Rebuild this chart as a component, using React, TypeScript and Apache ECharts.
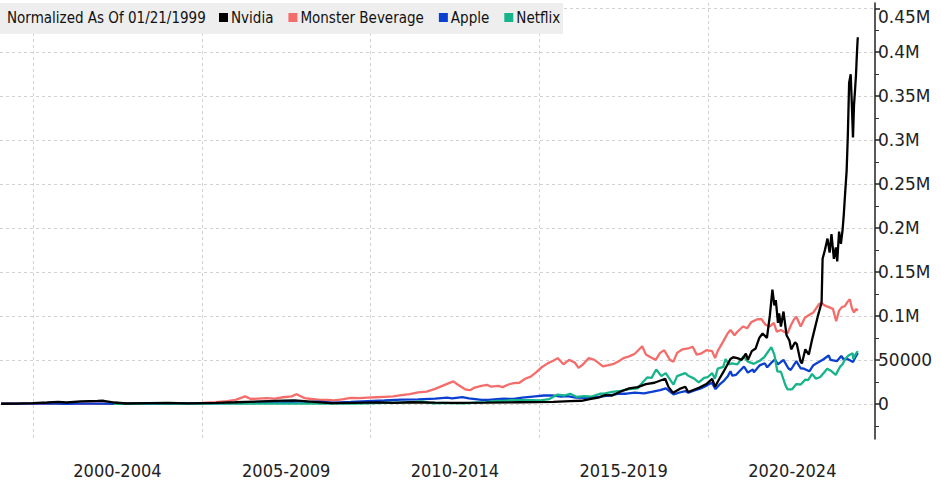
import React, { useEffect, useRef } from "react";
import * as echarts from "echarts";

const chartTitle = "Normalized As Of 01/21/1999";
const seriesNames = ["Nvidia", "Monster Beverage", "Apple", "Netflix"];
const seriesColors = ["#000000", "#f46d6b", "#0b3fd2", "#17b48b"];

const periodStarts = [2000, 2005, 2010, 2015, 2020];
const periodLabels = ["2000-2004", "2005-2009", "2010-2014", "2015-2019", "2020-2024"];

const yTickValues = [0, 50000, 100000, 150000, 200000, 250000, 300000, 350000, 400000, 450000];
const yTickLabels = ["0", "50000", "0.1M", "0.15M", "0.2M", "0.25M", "0.3M", "0.35M", "0.4M", "0.45M"];
const yMinorTickValues = [-25000, 25000, 75000, 125000, 175000, 225000, 275000, 325000, 375000, 425000];

const nvidia: [string, number][] = [
  ["1999-01-21", 100], ["1999-07-01", 300], ["2000-01-01", 800], ["2000-06-01", 1500],
  ["2000-10-01", 2200], ["2001-01-01", 1500], ["2001-06-01", 2800], ["2001-12-01", 3300],
  ["2002-02-01", 3500], ["2002-06-01", 1500], ["2002-10-01", 400], ["2003-06-01", 800],
  ["2004-01-01", 1000], ["2004-08-01", 600], ["2005-06-01", 1200], ["2006-01-01", 1800],
  ["2006-10-01", 2800], ["2007-06-01", 3600], ["2007-10-01", 4000], ["2008-06-01", 2000],
  ["2008-11-01", 700], ["2009-06-01", 1200], ["2010-04-01", 1600], ["2010-09-01", 1000],
  ["2011-04-01", 1800], ["2011-12-01", 1300], ["2012-06-01", 1200], ["2013-06-01", 1400],
  ["2014-06-01", 1800], ["2015-06-01", 2200], ["2015-12-01", 3100], ["2016-04-01", 3500],
  ["2016-07-01", 5500], ["2016-10-01", 7000], ["2016-12-15", 10000], ["2017-03-01", 9500],
  ["2017-06-01", 14000], ["2017-09-01", 17500], ["2017-12-01", 19000], ["2018-03-01", 22500],
  ["2018-06-01", 24000], ["2018-09-25", 28500], ["2018-11-01", 19000], ["2018-12-20", 12500],
  ["2019-03-01", 17000], ["2019-05-01", 19500], ["2019-06-01", 13500], ["2019-08-01", 16000],
  ["2019-10-01", 18500], ["2019-12-15", 22500], ["2020-02-15", 28500], ["2020-03-18", 19500],
  ["2020-05-01", 28000], ["2020-06-15", 36000], ["2020-08-01", 45000], ["2020-09-01", 51000],
  ["2020-10-01", 53000], ["2020-11-15", 52000], ["2021-01-01", 50000], ["2021-02-15", 57000],
  ["2021-03-10", 50000], ["2021-04-20", 60000], ["2021-06-01", 63000], ["2021-07-10", 75000],
  ["2021-08-15", 80000], ["2021-10-01", 75000], ["2021-11-01", 100000], ["2021-11-29", 130000],
  ["2021-12-20", 112000], ["2022-01-05", 118000], ["2022-01-28", 92000], ["2022-02-10", 103000],
  ["2022-03-01", 88000], ["2022-03-29", 105000], ["2022-05-01", 78000], ["2022-06-01", 72000],
  ["2022-06-20", 62000], ["2022-08-01", 70000], ["2022-08-20", 68000], ["2022-09-30", 48000],
  ["2022-10-14", 46000], ["2022-11-20", 62000], ["2022-12-28", 56000], ["2023-01-30", 72000],
  ["2023-03-01", 85000], ["2023-04-05", 100000], ["2023-05-15", 115000], ["2023-05-26", 165000],
  ["2023-06-20", 175000], ["2023-07-18", 188000], ["2023-08-10", 172000], ["2023-08-30", 193000],
  ["2023-09-25", 165000], ["2023-10-16", 178000], ["2023-10-31", 162000], ["2023-11-20", 196000],
  ["2023-12-10", 182000], ["2023-12-28", 198000], ["2024-01-10", 215000], ["2024-01-25", 240000],
  ["2024-02-10", 265000], ["2024-02-23", 305000], ["2024-03-08", 365000], ["2024-03-25", 375000],
  ["2024-04-05", 345000], ["2024-04-19", 303000], ["2024-04-30", 340000], ["2024-05-10", 355000],
  ["2024-05-22", 375000], ["2024-05-28", 390000], ["2024-06-05", 408000], ["2024-06-10", 417000],
];

const monster: [string, number][] = [
  ["1999-01-21", 100], ["2000-01-01", 80], ["2001-01-01", 100], ["2002-01-01", 120],
  ["2003-01-01", 100], ["2003-10-01", 300], ["2004-06-01", 700], ["2005-01-01", 1200],
  ["2005-06-01", 2000], ["2005-10-01", 3000], ["2006-01-01", 4500], ["2006-04-15", 8500],
  ["2006-06-15", 5500], ["2006-09-01", 6000], ["2006-12-01", 6500], ["2007-03-01", 6000],
  ["2007-06-01", 7500], ["2007-09-01", 8500], ["2007-10-20", 11000], ["2007-12-01", 9000],
  ["2008-01-20", 6500], ["2008-04-01", 5500], ["2008-07-01", 4500], ["2008-10-01", 4500],
  ["2008-12-01", 4000], ["2009-03-01", 5000], ["2009-06-01", 6800], ["2009-09-01", 6500],
  ["2009-12-01", 7000], ["2010-03-01", 7500], ["2010-06-01", 8000], ["2010-09-01", 8500],
  ["2010-12-01", 10000], ["2011-03-01", 11000], ["2011-06-01", 13000], ["2011-09-01", 14000],
  ["2011-12-01", 17000], ["2012-03-01", 21000], ["2012-06-15", 25500], ["2012-08-01", 22000],
  ["2012-10-20", 16500], ["2012-12-15", 15500], ["2013-02-01", 18500], ["2013-04-15", 20500],
  ["2013-06-15", 21500], ["2013-08-01", 19500], ["2013-10-15", 20500], ["2013-12-01", 19000],
  ["2014-02-01", 22000], ["2014-04-01", 23500], ["2014-06-01", 24000], ["2014-08-01", 28500],
  ["2014-10-01", 31000], ["2014-12-01", 36000], ["2015-02-01", 42000], ["2015-04-01", 46000],
  ["2015-06-01", 49000], ["2015-07-20", 52000], ["2015-09-20", 45000], ["2015-11-20", 50000],
  ["2016-01-20", 47000], ["2016-03-01", 41000], ["2016-04-20", 45000], ["2016-06-20", 52000],
  ["2016-08-20", 50000], ["2016-10-10", 46000], ["2016-11-20", 42500], ["2017-01-20", 44000],
  ["2017-03-20", 45500], ["2017-05-20", 49000], ["2017-07-01", 52000], ["2017-09-01", 54000],
  ["2017-11-01", 57000], ["2018-01-20", 65500], ["2018-03-01", 56000], ["2018-04-20", 53000],
  ["2018-06-15", 50000], ["2018-08-01", 58000], ["2018-09-15", 61000], ["2018-11-15", 50000],
  ["2018-12-24", 48000], ["2019-02-01", 58000], ["2019-04-01", 62000], ["2019-06-01", 63000],
  ["2019-07-20", 65000], ["2019-09-01", 56000], ["2019-10-15", 57000], ["2019-12-15", 61000],
  ["2020-02-15", 60000], ["2020-03-18", 52000], ["2020-04-15", 60000], ["2020-06-15", 71000],
  ["2020-08-01", 80000], ["2020-09-01", 84000], ["2020-10-15", 78000], ["2020-11-15", 82000],
  ["2021-01-15", 88000], ["2021-03-01", 86000], ["2021-04-15", 93000], ["2021-06-15", 96000],
  ["2021-08-01", 96500], ["2021-09-15", 90000], ["2021-11-01", 88000], ["2021-12-15", 92000],
  ["2022-01-15", 82000], ["2022-03-01", 84000], ["2022-05-10", 80000], ["2022-06-20", 90000],
  ["2022-07-20", 96000], ["2022-08-15", 99000], ["2022-10-01", 88000], ["2022-11-15", 98000],
  ["2022-12-30", 101000], ["2023-02-15", 104000], ["2023-04-15", 113000], ["2023-05-10", 115000],
  ["2023-06-15", 112000], ["2023-08-01", 110000], ["2023-09-15", 108000], ["2023-10-20", 94000],
  ["2023-11-20", 106000], ["2023-12-20", 110000], ["2024-01-20", 111000], ["2024-02-20", 116000],
  ["2024-03-15", 119000], ["2024-04-10", 108000], ["2024-05-01", 104000], ["2024-05-20", 108000],
  ["2024-06-10", 106000],
];

const apple: [string, number][] = [
  ["1999-01-21", 100], ["1999-06-01", 140], ["1999-12-01", 280], ["2000-03-20", 400],
  ["2000-09-01", 180], ["2000-12-15", 120], ["2001-06-01", 170], ["2002-01-01", 180],
  ["2002-06-01", 120], ["2003-04-01", 110], ["2003-12-01", 160], ["2004-06-01", 250],
  ["2004-12-01", 480], ["2005-06-01", 560], ["2005-12-01", 1100], ["2006-06-01", 860],
  ["2006-12-01", 1280], ["2007-06-01", 1800], ["2007-12-20", 2900], ["2008-03-01", 1800],
  ["2008-06-01", 2600], ["2008-12-01", 1300], ["2009-06-01", 2100], ["2009-12-01", 3100],
  ["2010-06-01", 3800], ["2010-12-01", 4800], ["2011-06-01", 5000], ["2011-12-01", 5900],
  ["2012-04-10", 7000], ["2012-06-01", 6300], ["2012-09-20", 7600], ["2012-12-01", 6100],
  ["2013-04-20", 4400], ["2013-07-01", 4400], ["2013-10-01", 5300], ["2013-12-15", 5900],
  ["2014-04-01", 5500], ["2014-07-01", 7000], ["2014-11-20", 8600], ["2015-02-20", 9500],
  ["2015-05-20", 9700], ["2015-08-25", 8200], ["2015-11-01", 8800], ["2016-02-01", 7200],
  ["2016-05-12", 6900], ["2016-08-01", 7600], ["2016-11-01", 8200], ["2017-02-01", 9600],
  ["2017-05-15", 11700], ["2017-08-01", 11500], ["2017-11-01", 12800], ["2018-02-08", 11900],
  ["2018-05-01", 13500], ["2018-08-01", 15600], ["2018-10-03", 17500], ["2018-12-24", 10800],
  ["2019-03-01", 12900], ["2019-05-01", 14500], ["2019-06-03", 12600], ["2019-08-01", 15000],
  ["2019-10-15", 17500], ["2019-12-27", 21300], ["2020-02-12", 24000], ["2020-03-23", 16800],
  ["2020-05-01", 21500], ["2020-06-15", 25500], ["2020-08-01", 31000], ["2020-09-01", 37000],
  ["2020-09-21", 32000], ["2020-11-01", 33000], ["2021-01-26", 42500], ["2021-03-08", 35500],
  ["2021-05-01", 39000], ["2021-05-13", 36000], ["2021-07-15", 43800], ["2021-09-07", 46200],
  ["2021-10-04", 41500], ["2021-11-15", 46500], ["2021-12-28", 50500], ["2022-01-27", 45000],
  ["2022-03-29", 50000], ["2022-05-20", 40500], ["2022-06-15", 38500], ["2022-08-15", 48500],
  ["2022-09-30", 40500], ["2022-11-05", 40000], ["2023-01-03", 37000], ["2023-02-15", 44000],
  ["2023-04-15", 47500], ["2023-06-01", 50500], ["2023-07-31", 55000], ["2023-08-20", 50000],
  ["2023-10-27", 48500], ["2023-12-14", 54500], ["2024-01-05", 51000], ["2024-02-20", 51000],
  ["2024-04-19", 47500], ["2024-05-15", 53000], ["2024-06-10", 58000],
];

const netflix: [string, number][] = [
  ["2002-05-23", 100], ["2002-10-01", 50], ["2003-06-01", 200], ["2004-01-15", 370],
  ["2004-08-01", 140], ["2005-06-01", 150], ["2006-01-01", 260], ["2006-06-01", 270],
  ["2007-01-01", 220], ["2007-08-01", 170], ["2008-01-01", 250], ["2008-06-01", 300],
  ["2008-11-20", 170], ["2009-06-01", 400], ["2009-12-01", 530], ["2010-06-01", 1000],
  ["2010-12-01", 1700], ["2011-04-01", 2200], ["2011-07-13", 2800], ["2011-10-01", 1100],
  ["2011-12-01", 650], ["2012-03-01", 1050], ["2012-09-01", 520], ["2012-12-01", 900],
  ["2013-03-01", 1750], ["2013-06-01", 2000], ["2013-10-01", 3300], ["2013-12-01", 3400],
  ["2014-03-01", 4100], ["2014-06-01", 4200], ["2014-10-01", 4300], ["2015-01-15", 4000],
  ["2015-04-20", 5400], ["2015-07-20", 10500], ["2015-10-01", 9500], ["2015-12-01", 11500],
  ["2016-02-08", 8000], ["2016-05-01", 8700], ["2016-07-20", 8300], ["2016-10-20", 11500],
  ["2016-12-15", 11800], ["2017-03-01", 13500], ["2017-06-01", 14800], ["2017-09-01", 16700],
  ["2017-12-01", 17500], ["2018-01-25", 24500], ["2018-03-15", 30000], ["2018-05-01", 29500],
  ["2018-06-20", 39000], ["2018-08-15", 31500], ["2018-10-01", 35000], ["2018-12-24", 21800],
  ["2019-02-01", 31500], ["2019-04-30", 35000], ["2019-06-01", 32000], ["2019-08-01", 29000],
  ["2019-09-24", 24500], ["2019-11-20", 29500], ["2019-12-31", 30500], ["2020-02-15", 35000],
  ["2020-03-16", 28500], ["2020-04-16", 40000], ["2020-06-15", 42000], ["2020-07-10", 51000],
  ["2020-08-15", 45000], ["2020-09-15", 46000], ["2020-11-15", 45000], ["2021-01-20", 54000],
  ["2021-03-10", 48000], ["2021-05-12", 45500], ["2021-07-15", 49000], ["2021-09-01", 53000],
  ["2021-11-17", 64500], ["2021-12-20", 56000], ["2022-01-21", 37000], ["2022-03-01", 36500],
  ["2022-04-20", 21000], ["2022-05-11", 16600], ["2022-06-30", 16500], ["2022-08-15", 22500],
  ["2022-10-01", 22000], ["2022-11-20", 27500], ["2022-12-20", 27000], ["2023-02-01", 34000],
  ["2023-03-15", 28500], ["2023-05-01", 30500], ["2023-07-15", 40000], ["2023-09-01", 37000],
  ["2023-10-15", 33000], ["2023-11-30", 42000], ["2023-12-28", 45000], ["2024-01-25", 51000],
  ["2024-03-01", 55000], ["2024-04-15", 57500], ["2024-04-22", 51000], ["2024-05-15", 56000],
  ["2024-06-10", 60000],
];

const seriesData = [nvidia, monster, apple, netflix];

function toYear(d: string): number {
  const [y, m, dd] = d.split("-").map(Number);
  const t = Date.UTC(y, m - 1, dd);
  const s = Date.UTC(y, 0, 1);
  const e = Date.UTC(y + 1, 0, 1);
  return y + (t - s) / (e - s);
}

const condensed = "'DejaVu Sans Condensed', 'Liberation Sans Narrow', 'DejaVu Sans', sans-serif";

export default function App() {
  const ref = useRef<HTMLDivElement>(null);
  useEffect(() => {
    if (!ref.current) return;
    const chart = echarts.init(ref.current, undefined, { renderer: "svg" });
    const zs = [6, 3, 4, 5];
    const option: any = {
      animation: false,
      backgroundColor: "#ffffff",
      grid: { left: 0, right: 66, top: 3, bottom: 44, containLabel: false },
      legend: {
        data: seriesNames.map((n, i) => ({ name: n, itemStyle: { color: seriesColors[i] } })),
        left: 219,
        top: 10,
        padding: 0,
        icon: "rect",
        itemWidth: 9,
        itemHeight: 9,
        itemGap: 15,
        textStyle: { fontFamily: condensed, fontSize: 15, color: "#111", padding: [0, 0, 0, -2] },
        z: 10,
      },
      graphic: [
        { type: "rect", left: 0, top: 3, shape: { width: 563, height: 31 }, style: { fill: "#eeeeee" }, z: 8 },
        {
          type: "text", left: 7, top: 10, z: 10,
          style: { text: chartTitle, font: `15px ${condensed}`, fill: "#111" },
        },
      ],
      xAxis: {
        type: "value",
        min: 1999.02,
        max: 2024.95,
        axisLine: { show: false },
        axisTick: { show: false, customValues: periodStarts },
        axisLabel: {
          customValues: periodStarts.map((s) => s + 2.5),
          formatter: (v: number) => {
            const i = periodStarts.findIndex((s) => Math.abs(s + 2.5 - v) < 0.01);
            return i >= 0 ? periodLabels[i] : "";
          },
          fontFamily: condensed,
          fontSize: 18,
          color: "#222",
          margin: 22,
        },
        splitLine: { show: true, lineStyle: { color: "#d2d2d2", type: [3, 3], width: 1 } },
      },
      yAxis: [
        {
          type: "value",
          position: "right",
          min: -40000,
          max: 456000,
          axisLine: { show: true, lineStyle: { color: "#222", width: 1.5 } },
          axisTick: { show: true, inside: false, length: 5, customValues: yTickValues, lineStyle: { color: "#222", width: 1.5 } },
          axisLabel: {
            customValues: yTickValues,
            formatter: (v: number) => {
              const i = yTickValues.indexOf(v);
              return i >= 0 ? yTickLabels[i] : "";
            },
            fontFamily: "'DejaVu Sans', sans-serif",
            fontSize: 17,
            color: "#222",
            margin: 3,
            verticalAlignMaxLabel: "top",
          },
          splitLine: { show: true, lineStyle: { color: "#d2d2d2", type: [3, 3], width: 1 } },
        },
        {
          type: "value",
          position: "right",
          min: -40000,
          max: 456000,
          axisLine: { show: false },
          axisTick: { show: true, inside: false, length: 4, customValues: yMinorTickValues, lineStyle: { color: "#333", width: 1 } },
          axisLabel: { show: false },
          splitLine: { show: false },
        },
      ],
      series: seriesNames.map((name, i) => ({
        name,
        type: "line",
        yAxisIndex: 0,
        showSymbol: false,
        symbol: "none",
        z: zs[i],
        lineStyle: { color: seriesColors[i], width: 2.3 },
        itemStyle: { color: seriesColors[i] },
        data: seriesData[i].map(([d, v]) => [toYear(d), v]),
      })),
    };
    chart.setOption(option);
    return () => chart.dispose();
  }, []);
  return <div ref={ref} style={{ position: "fixed", left: 0, top: 0, width: 941, height: 483 }} />;
}
